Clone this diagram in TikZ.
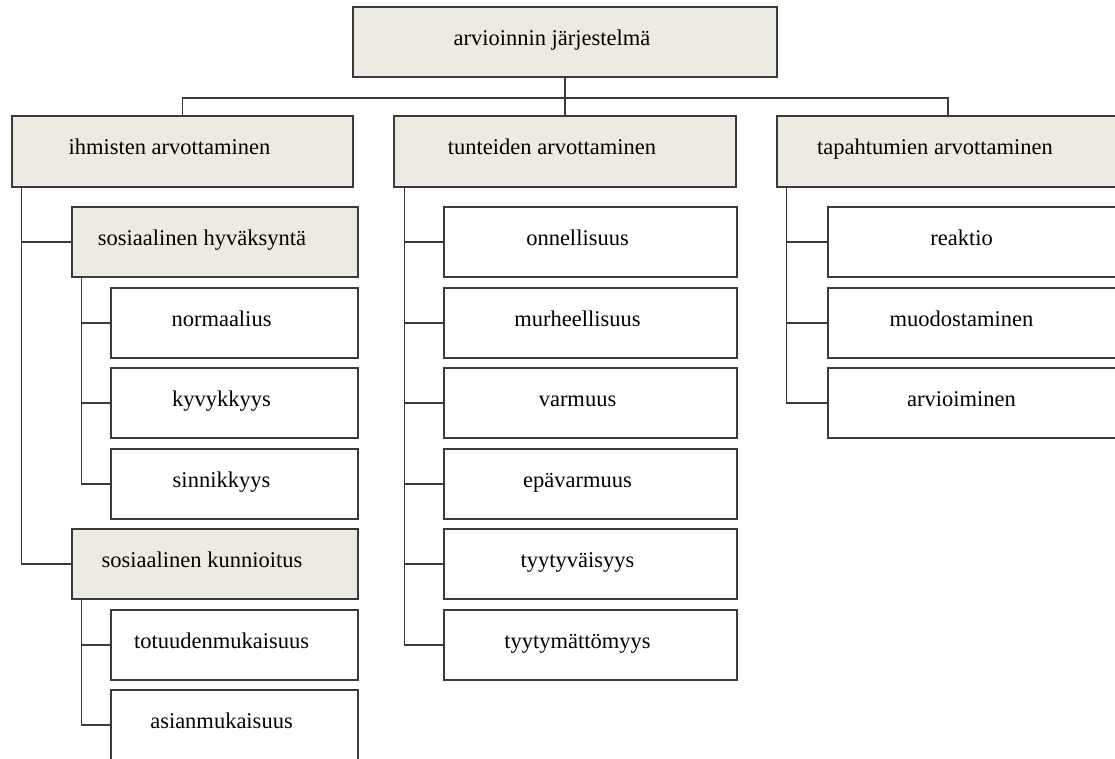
\documentclass[tikz,border=0pt]{standalone}
\usepackage{fontspec}
\setmainfont{Liberation Serif}
\definecolor{shade}{HTML}{ECEAE1}
\definecolor{edge}{HTML}{3A3A3A}
\tikzset{
  box/.style={draw=edge, line width=1.5pt, rectangle, inner sep=0pt, fill=white,
    text=black, font=\fontsize{22.5}{27}\selectfont,
    text height=13pt, text depth=7pt, minimum height=70pt,
    execute at end node={\hspace*{26pt}}},
  shadedbox/.style={box, fill=shade},
  link/.style={draw=edge, line width=1.5pt},
}
\newcommand{\bx}[6]{% style, name, cx, cy, w, text
  \node[#1, minimum width=#5pt] (#2) at (#3,#4) {#6};}
\begin{document}
\begin{tikzpicture}[x=1pt,y=-1pt]
\useasboundingbox (0,0) rectangle (1115,758);
\clip (0,0) rectangle (1115,758);
\fill[white] (0,0) rectangle (1115,758);
% root
\node[shadedbox, minimum width=424pt] (root) at (565,42) {arvioinnin järjestelmä};
% level 1
\node[shadedbox, minimum width=341pt, minimum height=71pt] (ihm) at (182.5,151.5) {ihmisten arvottaminen};
\node[shadedbox, minimum width=342pt, minimum height=71pt] (tun) at (565,151.5) {tunteiden arvottaminen};
\node[shadedbox, minimum width=342pt, minimum height=71pt] (tap) at (948,151.5) {tapahtumien arvottaminen};
% left column
\bx{shadedbox}{hyv}{215}{242}{286}{sosiaalinen hyväksyntä}
\bx{box}{nor}{234.5}{323}{247}{normaalius}
\bx{box}{kyv}{234.5}{403}{247}{kyvykkyys}
\bx{box}{sin}{234.5}{484}{247}{sinnikkyys}
\bx{shadedbox}{kun}{215}{564}{286}{sosiaalinen kunnioitus}
\bx{box}{tot}{234.5}{645}{247}{totuudenmukaisuus}
\bx{box}{asi}{234.5}{725}{247}{asianmukaisuus}
% middle column
\bx{box}{onn}{590.5}{242}{293}{onnellisuus}
\bx{box}{mur}{590.5}{323}{293}{murheellisuus}
\bx{box}{var}{590.5}{403}{293}{varmuus}
\bx{box}{epa}{590.5}{484}{293}{epävarmuus}
\bx{box}{tyv}{590.5}{564}{293}{tyytyväisyys}
\bx{box}{tym}{590.5}{645}{293}{tyytymättömyys}
% right column
\bx{box}{rea}{974.5}{242}{293}{reaktio}
\bx{box}{muo}{974.5}{323}{293}{muodostaminen}
\bx{box}{arv}{974.5}{403}{293}{arvioiminen}
% connectors root
\draw[link] (root.south) -- (tun.north);
\draw[link] (root.south) ++(0,20) -| (ihm.north);
\draw[link] (root.south) ++(0,20) -| (tap.north);
% left
\draw[link] ([xshift=10pt]ihm.south west) |- (hyv.west);
\draw[link] ([xshift=10pt]ihm.south west) |- (kun.west);
\draw[link] ([xshift=10pt]hyv.south west) |- (nor.west);
\draw[link] ([xshift=10pt]hyv.south west) |- (kyv.west);
\draw[link] ([xshift=10pt]hyv.south west) |- (sin.west);
\draw[link] ([xshift=10pt]kun.south west) |- (tot.west);
\draw[link] ([xshift=10pt]kun.south west) |- (asi.west);
% middle
\foreach \n in {onn,mur,var,epa,tyv,tym}
  \draw[link] ([xshift=11pt]tun.south west) |- (\n.west);
% right
\foreach \n in {rea,muo,arv}
  \draw[link] ([xshift=10pt]tap.south west) |- (\n.west);
\end{tikzpicture}
\end{document}
